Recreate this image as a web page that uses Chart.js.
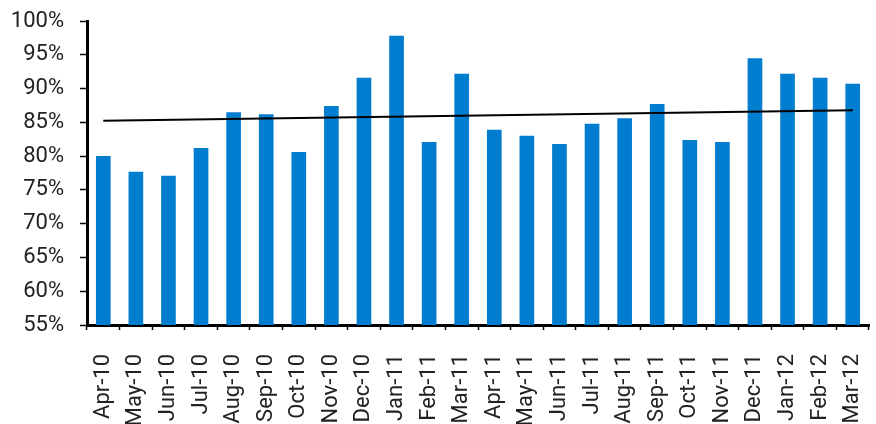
<!DOCTYPE html>
<html>
<head>
<meta charset="utf-8">
<script src="https://cdn.jsdelivr.net/npm/chart.js@4/dist/chart.umd.min.js"></script>
<style>
  html, body { margin: 0; padding: 0; background: #ffffff; }
  #wrap { width: 876px; height: 424px; }
</style>
</head>
<body>
<div id="wrap"><canvas id="c" width="876" height="424"></canvas></div>
<script>
// Monthly categories
const months = ['Apr-10','May-10','Jun-10','Jul-10','Aug-10','Sep-10','Oct-10','Nov-10','Dec-10','Jan-11','Feb-11','Mar-11',
                'Apr-11','May-11','Jun-11','Jul-11','Aug-11','Sep-11','Oct-11','Nov-11','Dec-11','Jan-12','Feb-12','Mar-12'];

// Monthly ratio, in percent
const ratio = [80.0, 77.7, 77.1, 81.2, 86.5, 86.2, 80.6, 87.4, 91.6, 97.8, 82.1, 92.2,
               83.9, 83.0, 81.8, 84.8, 85.6, 87.7, 82.4, 82.1, 94.5, 92.2, 91.6, 90.7];

// Trend line end points, in percent
const trendStart = 85.25;
const trendEnd = 86.8;

// y-axis tick range
const yMin = 55;
const yMax = 100;
const yStep = 5;

// Straight trend line: only the first and last points are set, the gap is spanned
const trend = months.map((m, i) => i === 0 ? trendStart : (i === months.length - 1 ? trendEnd : null));

const FONT = "Roboto, 'Liberation Sans', Arial, sans-serif";
const TEXT = '#222222';

// Fixed axis box sizes; label overhang is left to the outer layout padding
function fixBox(size, dim) {
  return (s) => {
    s[dim] = size;
    s.paddingTop = 0; s.paddingBottom = 0; s.paddingLeft = 0; s.paddingRight = 0;
  };
}

new Chart(document.getElementById('c'), {
  data: {
    labels: months,
    datasets: [
      {
        type: 'line',
        data: trend,
        borderColor: '#000000',
        borderWidth: 2,
        pointRadius: 0,
        spanGaps: true,
        fill: false,
        order: 0
      },
      {
        type: 'bar',
        data: ratio,
        backgroundColor: '#007dcf',
        borderWidth: 0,
        barPercentage: 0.45,
        categoryPercentage: 1.0,
        order: 1
      }
    ]
  },
  options: {
    responsive: false,
    animation: false,
    layout: { padding: { top: 21, right: 7, bottom: 0, left: 0 } },
    plugins: {
      legend: { display: false },
      tooltip: { enabled: false }
    },
    scales: {
      x: {
        type: 'category',
        offset: true,
        grid: {
          offset: true,
          drawOnChartArea: false,
          drawTicks: true,
          tickLength: 5,
          tickWidth: 1.5,
          tickColor: '#000000'
        },
        border: { display: true, color: '#000000', width: 3 },
        ticks: {
          minRotation: 90,
          maxRotation: 90,
          autoSkip: false,
          padding: 24,
          color: TEXT,
          font: { family: FONT, size: 22 }
        },
        afterFit: fixBox(99, 'height')
      },
      y: {
        min: yMin,
        max: yMax,
        grid: {
          drawOnChartArea: false,
          drawTicks: true,
          tickLength: 7,
          tickWidth: 1.5,
          tickColor: '#000000'
        },
        border: { display: true, color: '#000000', width: 3 },
        ticks: {
          stepSize: yStep,
          padding: 16,
          color: TEXT,
          font: { family: FONT, size: 22 },
          callback: (v) => v + '%'
        },
        afterFit: fixBox(87, 'width')
      }
    }
  }
});
</script>
</body>
</html>
